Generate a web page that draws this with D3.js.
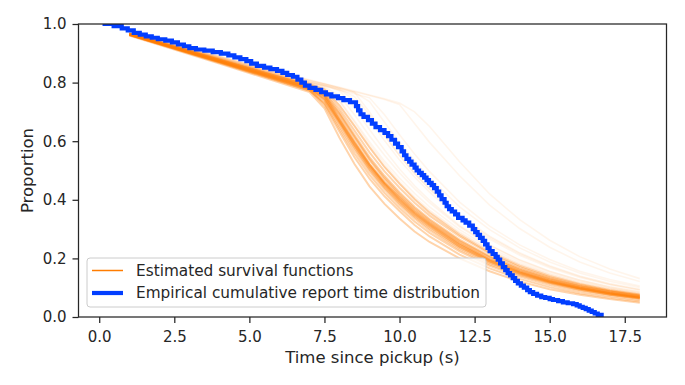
<html>
<script src="https://d3js.org/d3.v7.min.js"></script>
<style>
  body { margin: 0; background: #fff; }
  text { font-family: "DejaVu Sans", sans-serif; fill: #262626; }
</style>
<body>
<div id="chart"></div>
<script>
// grid of times (s) where each estimated survival curve is sampled
var gridT = [1, 4, 6.5, 7, 7.5, 8, 8.5, 9, 9.5, 10, 10.5, 11, 12, 13, 14, 15, 16, 17, 18];

// the bulk of the estimated survival functions (dense band)
var coreCurves = [
  [0.965,0.876,0.800,0.786,0.760,0.680,0.600,0.522,0.460,0.410,0.362,0.322,0.252,0.197,0.156,0.125,0.101,0.083,0.069],
  [0.962,0.870,0.791,0.776,0.722,0.632,0.545,0.472,0.412,0.362,0.314,0.275,0.213,0.166,0.130,0.102,0.081,0.066,0.053],
  [0.966,0.879,0.805,0.790,0.766,0.700,0.622,0.546,0.482,0.426,0.376,0.334,0.264,0.208,0.165,0.132,0.107,0.088,0.073],
  [0.968,0.882,0.810,0.795,0.776,0.722,0.652,0.580,0.512,0.455,0.402,0.356,0.281,0.221,0.175,0.140,0.113,0.092,0.077],
  [0.964,0.872,0.795,0.780,0.745,0.666,0.586,0.512,0.451,0.396,0.350,0.311,0.241,0.190,0.150,0.120,0.097,0.080,0.066],
  [0.963,0.868,0.788,0.772,0.732,0.650,0.570,0.497,0.436,0.382,0.336,0.296,0.230,0.180,0.143,0.115,0.093,0.076,0.062],
  [0.961,0.865,0.784,0.768,0.712,0.612,0.522,0.446,0.386,0.336,0.292,0.256,0.200,0.156,0.121,0.095,0.076,0.061,0.049],
  [0.967,0.880,0.806,0.791,0.770,0.710,0.636,0.562,0.497,0.441,0.390,0.346,0.275,0.216,0.170,0.136,0.110,0.090,0.075],
  [0.965,0.874,0.798,0.782,0.752,0.672,0.594,0.520,0.456,0.402,0.355,0.316,0.247,0.194,0.153,0.122,0.099,0.081,0.067],
  [0.963,0.871,0.793,0.778,0.740,0.660,0.578,0.504,0.442,0.388,0.342,0.302,0.236,0.185,0.146,0.117,0.094,0.077,0.064],
  [0.966,0.877,0.802,0.787,0.755,0.690,0.612,0.535,0.470,0.414,0.366,0.325,0.257,0.202,0.160,0.128,0.104,0.085,0.071],
  [0.962,0.869,0.790,0.774,0.728,0.642,0.558,0.485,0.424,0.372,0.326,0.287,0.224,0.175,0.138,0.109,0.088,0.072,0.058],
  [0.965,0.875,0.799,0.784,0.756,0.676,0.597,0.521,0.458,0.406,0.358,0.319,0.250,0.196,0.155,0.124,0.100,0.082,0.068],
  [0.964,0.873,0.797,0.781,0.749,0.670,0.590,0.516,0.454,0.400,0.353,0.314,0.245,0.192,0.152,0.121,0.098,0.080,0.066],
  [0.966,0.878,0.803,0.788,0.762,0.694,0.616,0.540,0.476,0.420,0.371,0.330,0.260,0.205,0.162,0.130,0.105,0.087,0.072],
  [0.963,0.872,0.794,0.779,0.742,0.664,0.583,0.508,0.446,0.392,0.346,0.307,0.239,0.188,0.148,0.118,0.096,0.078,0.065]
];

// later-breaking curves (faint lines above the band)
var outlierCurves = [
  [0.968,0.885,0.815,0.800,0.790,0.772,0.715,0.640,0.570,0.505,0.448,0.398,0.312,0.246,0.195,0.156,0.126,0.103,0.086],
  [0.970,0.888,0.818,0.805,0.795,0.782,0.766,0.700,0.622,0.552,0.490,0.436,0.345,0.272,0.216,0.172,0.138,0.112,0.093],
  [0.970,0.890,0.820,0.808,0.795,0.782,0.769,0.756,0.742,0.725,0.660,0.596,0.482,0.382,0.302,0.238,0.188,0.150,0.121],
  [0.969,0.886,0.815,0.800,0.788,0.775,0.762,0.748,0.690,0.622,0.556,0.496,0.392,0.310,0.246,0.196,0.156,0.128,0.106],
  [0.971,0.890,0.822,0.810,0.797,0.784,0.771,0.758,0.745,0.730,0.700,0.650,0.530,0.420,0.332,0.262,0.206,0.164,0.131],
  [0.967,0.882,0.810,0.796,0.782,0.740,0.670,0.598,0.532,0.474,0.422,0.376,0.298,0.236,0.188,0.150,0.121,0.099,0.082],
  [0.969,0.887,0.816,0.802,0.790,0.776,0.740,0.672,0.602,0.536,0.478,0.426,0.336,0.266,0.211,0.168,0.135,0.110,0.091],
  [0.966,0.878,0.806,0.792,0.778,0.735,0.665,0.590,0.522,0.462,0.410,0.365,0.290,0.229,0.182,0.146,0.118,0.097,0.080],
  [0.968,0.884,0.812,0.798,0.786,0.755,0.690,0.618,0.552,0.492,0.438,0.390,0.308,0.244,0.194,0.155,0.125,0.102,0.085],
  [0.969,0.886,0.816,0.801,0.790,0.778,0.752,0.690,0.618,0.550,0.490,0.438,0.348,0.276,0.219,0.175,0.140,0.114,0.095],
  [0.970,0.889,0.819,0.806,0.794,0.780,0.767,0.735,0.665,0.596,0.532,0.475,0.376,0.298,0.236,0.188,0.150,0.122,0.101],
  [0.967,0.881,0.808,0.794,0.780,0.722,0.650,0.578,0.512,0.454,0.404,0.360,0.286,0.226,0.180,0.144,0.116,0.095,0.079]
];

// empirical cumulative report time distribution (step function)
var empT = [0.11,0.48,0.75,0.95,1.15,1.35,1.55,1.75,1.95,2.2,2.42,2.62,2.82,3.0,3.22,3.5,3.78,4.05,4.3,4.5,
            4.7,4.9,5.06,5.25,5.49,5.7,5.92,6.1,6.26,6.45,6.6,6.73,6.85,7.0,7.2,7.39,7.55,7.73,7.95,8.13,
            8.35,8.55,8.62,8.7,8.8,8.95,9.08,9.2,9.35,9.5,9.62,9.73,9.85,9.95,10.07,10.15,10.23,10.32,10.4,10.5,
            10.57,10.65,10.74,10.82,10.9,10.98,11.07,11.15,11.24,11.32,11.4,11.5,11.57,11.65,11.74,11.85,11.95,12.1,12.2,12.32,
            12.44,12.52,12.6,12.68,12.77,12.85,12.93,13.0,13.1,13.2,13.27,13.35,13.44,13.52,13.6,13.68,13.77,13.85,13.94,14.04,
            14.14,14.25,14.34,14.45,14.58,14.72,14.85,15.0,15.11,15.28,15.44,15.6,15.78,15.9,16.0,16.1,16.2,16.3,16.4,16.5,
            16.6,16.8];
var empP = [1.0,0.993,0.985,0.978,0.97,0.964,0.958,0.953,0.948,0.943,0.937,0.93,0.924,0.918,0.913,0.909,0.904,0.899,0.893,0.886,
            0.88,0.873,0.865,0.857,0.851,0.846,0.84,0.833,0.826,0.82,0.81,0.8,0.79,0.782,0.775,0.767,0.76,0.753,0.747,0.74,
            0.733,0.72,0.705,0.692,0.683,0.672,0.66,0.648,0.638,0.628,0.617,0.605,0.592,0.58,0.565,0.552,0.54,0.53,0.52,0.51,
            0.5,0.492,0.484,0.476,0.467,0.458,0.45,0.44,0.428,0.415,0.402,0.39,0.378,0.368,0.36,0.35,0.338,0.33,0.322,0.312,
            0.3,0.29,0.28,0.27,0.26,0.248,0.236,0.225,0.215,0.205,0.196,0.183,0.17,0.16,0.15,0.142,0.133,0.123,0.115,0.107,
            0.1,0.092,0.085,0.079,0.073,0.068,0.065,0.061,0.058,0.054,0.05,0.047,0.044,0.04,0.035,0.031,0.027,0.022,0.017,0.012,
            0.007,0.007];

var xTicks = [0, 2.5, 5, 7.5, 10, 12.5, 15, 17.5];
var yTicks = [0, 0.2, 0.4, 0.6, 0.8, 1.0];
var legendLabels = ["Estimated survival functions", "Empirical cumulative report time distribution"];

var W = 685, H = 385;
var margin = {top: 24, right: 18.5, bottom: 68, left: 78.5};
var width = W - margin.left - margin.right,
    height = H - margin.top - margin.bottom;

var orange = "#ff7c00", blue = "#023eff", ink = "#262626";

var svg = d3.select("#chart").append("svg")
    .attr("width", W).attr("height", H);

var g = svg.append("g").attr("transform", "translate(" + margin.left + "," + margin.top + ")");

var x = d3.scaleLinear().domain([-0.69, 18.89]).range([0, width]);
var y = d3.scaleLinear().domain([0, 1]).range([height, 0]);

var line = d3.line()
    .x(function(d) { return x(d[0]); })
    .y(function(d) { return y(d[1]); });

g.append("defs").append("clipPath").attr("id", "clip")
  .append("rect").attr("width", width).attr("height", height);

var plot = g.append("g").attr("clip-path", "url(#clip)");

function pairs(vals) { return gridT.map(function(t, i) { return [t, vals[i]]; }); }

plot.selectAll(".outlier")
  .data(outlierCurves)
  .enter().append("path")
    .attr("d", function(d) { return line(pairs(d)); })
    .attr("fill", "none")
    .attr("stroke", orange)
    .attr("stroke-width", 1.6)
    .attr("stroke-opacity", 0.08);

plot.selectAll(".core")
  .data(coreCurves)
  .enter().append("path")
    .attr("d", function(d) { return line(pairs(d)); })
    .attr("fill", "none")
    .attr("stroke", orange)
    .attr("stroke-width", 2)
    .attr("stroke-opacity", 0.33);

var emp = empT.map(function(t, i) { return [t, empP[i]]; });
plot.append("path")
  .attr("d", line.curve(d3.curveStepAfter)(emp))
  .attr("fill", "none")
  .attr("stroke", blue)
  .attr("stroke-width", 4.2)
  .attr("stroke-linejoin", "miter");

// axes
var xAxis = d3.axisBottom(x).tickValues(xTicks).tickFormat(d3.format(".1f")).tickSize(6).tickPadding(8);
var yAxis = d3.axisLeft(y).tickValues(yTicks).tickFormat(d3.format(".1f")).tickSize(6).tickPadding(6);

var gx = g.append("g").attr("transform", "translate(0," + height + ")").call(xAxis);
var gy = g.append("g").call(yAxis);
[gx, gy].forEach(function(a) {
  a.select(".domain").remove();
  a.selectAll(".tick line").attr("stroke", ink).attr("stroke-width", 1.25);
  a.selectAll(".tick text").attr("font-size", 15).attr("fill", ink)
    .style("font-family", "DejaVu Sans");
});

// frame
g.append("rect").attr("width", width).attr("height", height)
  .attr("fill", "none").attr("stroke", ink).attr("stroke-width", 1.25);

// axis labels
svg.append("text")
  .attr("x", margin.left + width / 2).attr("y", 363)
  .attr("text-anchor", "middle").attr("font-size", 16.5)
  .text("Time since pickup (s)");

svg.append("text")
  .attr("transform", "translate(33," + (margin.top + height / 2) + ") rotate(-90)")
  .attr("text-anchor", "middle").attr("font-size", 16.5)
  .text("Proportion");

// legend
var leg = svg.append("g").attr("transform", "translate(87,258)");
leg.append("rect").attr("width", 399).attr("height", 49).attr("rx", 3)
  .attr("fill", "#fff").attr("fill-opacity", 0.8)
  .attr("stroke", "#cccccc").attr("stroke-width", 1);
var legStyles = [{c: orange, w: 1.5}, {c: blue, w: 4.2}];
leg.selectAll(".item")
  .data(legendLabels)
  .enter().append("g")
    .attr("transform", function(d, i) { return "translate(0," + (12.5 + i * 22.5) + ")"; })
    .each(function(d, i) {
      var it = d3.select(this);
      it.append("line").attr("x1", 5).attr("x2", 36).attr("y1", 0).attr("y2", 0)
        .attr("stroke", legStyles[i].c).attr("stroke-width", legStyles[i].w);
      it.append("text").attr("x", 49).attr("dy", "0.35em").attr("font-size", 15.3).text(d);
    });
</script>
</body>
</html>
